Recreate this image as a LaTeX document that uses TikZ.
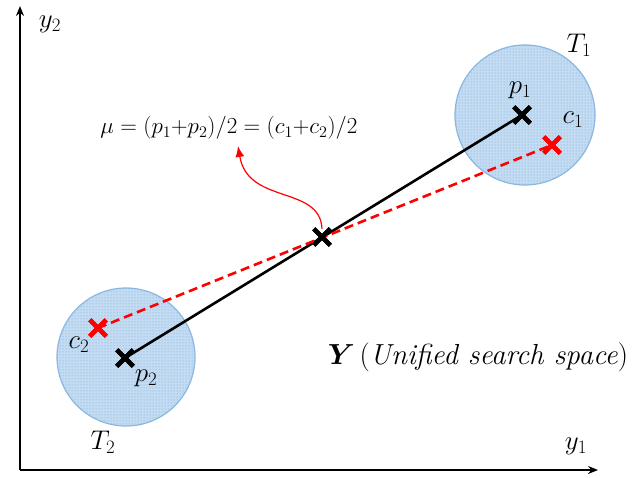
\RequirePackage{fix-cm}
\documentclass[tikz,border=0pt]{standalone}
\usepackage{amsmath,bm}
\usetikzlibrary{shapes.misc,patterns,arrows.meta}
\definecolor{regfill}{RGB}{196,220,242}
\definecolor{regdot}{RGB}{110,160,215}
\definecolor{regline}{RGB}{140,185,225}
\begin{document}
\begin{tikzpicture}[x=1pt, y=-1pt,
      every node/.style={font=\fontsize{27}{31}\selectfont},
      region/.style={circle, draw=regline, line width=1.2pt, fill=regfill,
        postaction={pattern=dots, pattern color=regdot}},
      pt/.style={cross out, draw, line width=4.5pt, minimum size=12pt, inner sep=0pt},
      axis/.style={-{Stealth[length=10pt,width=8pt]}, line width=1.8pt},
    ]
    \useasboundingbox (0,0) rectangle (644,478);

    % regions
    \node[region, minimum size=140pt] (t1) at (525,115) {};
    \node[region, minimum size=138pt] (t2) at (126,357) {};

    % axes
    \coordinate (o) at (20,470);
    \coordinate (xe) at (598,470);
    \coordinate (ye) at (20,6);
    \draw[axis] (o) -- (xe);
    \draw[axis] (o) -- (ye);
    \node (ylab) at (50,24) {$y_2$};
    \node (xlab) at (576,446) {$y_1$};

    % points
    \node[pt] (p1) at (522,115) {};
    \node[pt] (p2) at (125,358) {};
    \node[pt, red] (c1) at (552,145) {};
    \node[pt, red] (c2) at (98,328) {};
    \node[pt] (mu) at (322,237) {};

    \draw[line width=2.6pt] (p2.center) -- (p1.center);
    \draw[red, dashed, dash pattern=on 9pt off 5pt, line width=2.6pt] (c2.center) -- (c1.center);
    \foreach \n in {p1, p2, mu} \node[pt] at (\n) {};
    \node[pt, red] at (c1) {};
    \node[pt, red] at (c2) {};

    % labels
    \node (l1) at (579,45) {$T_1$};
    \node (l2) at (103,442) {$T_2$};
    \node (lp1) at (520,90) {$p_1$};
    \node (lc1) at (573,120) {$c_1$};
    \node (lc2) at (79,345) {$c_2$};
    \node (lp2) at (146,378) {$p_2$};

    \node[font=\fontsize{23}{27}\selectfont] (form) at (229,128) {$\mu = (p_1{+}p_2)/2 = (c_1{+}c_2)/2$};
    \coordinate (tip) at (238,146);
    \draw[red, line width=1.2pt, -{Latex[length=11pt,width=9pt]}] (mu.north) .. controls (320,185) and (248,205) .. (tip);

    \node[font=\fontsize{29}{33}\selectfont] (space) at (478,357) {$\bm{Y}\,$(\textit{Unified search space})};
  \end{tikzpicture}
\end{document}
